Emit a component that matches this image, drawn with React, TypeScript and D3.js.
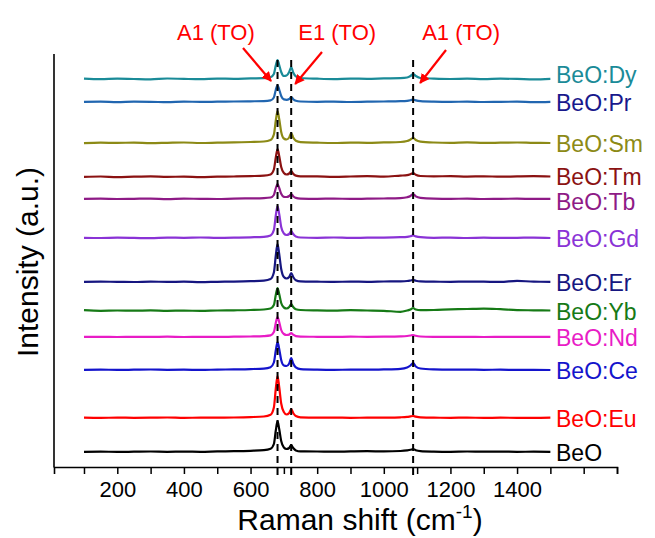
import React, { useEffect, useRef } from 'react';
import * as d3 from 'd3';

// Raman shift grid (cm-1) shared by all spectra
const shifts = [
  100, 150, 200, 250, 300, 350, 400, 450, 500, 550, 600,
  640, 660, 670, 676, 681, 686, 692, 700, 708, 716, 722, 728, 736, 750,
  800, 850, 900, 950, 1000, 1050,
  1070, 1080, 1088, 1096, 1110,
  1150, 1200, 1250, 1300, 1350, 1400, 1450, 1500,
];

// intensities (a.u., before stacking offset)
const dy = [0.3, -0.2, 0.4, 0, -0.3, 0.5, 0.1, -0.2, 0.4, 0.2, 0.6, 0.8, 1.8, 5, 14, 19, 14, 7, 3, 3.5, 7, 12, 6.5, 2.6, 1, 0.3, -0.1, 0.4, 0.2, 0.6, 0.9, 1.5, 3, 5, 3, 1, 0.4, 0, 0.3, -0.2, 0.3, 0.1, -0.3, 0.2];
const pr = [0.2, 0.4, -0.1, 0.3, 0.2, -0.2, 0.4, 0.1, 0.3, 0.5, 0.7, 0.9, 1.6, 4.5, 12.5, 17, 12.5, 6, 2.6, 2.2, 3, 5, 2.8, 1.2, 0.5, 0.2, 0.4, 0, 0.3, 0.5, 0.8, 1.2, 1.8, 2.5, 1.6, 0.8, 0.3, 0.1, 0.4, 0, 0.2, 0.3, -0.1, 0.2];
const sm = [-0.2, 0.3, 0.1, 0.4, -0.1, 0.2, 0.5, 0, 0.3, 0.6, 1, 1.5, 3, 8.5, 23, 32, 24, 11, 4.5, 3.5, 5.5, 10, 5.5, 2.2, 0.8, 0.3, 0, 0.4, 0.2, 0.6, 1, 2, 3.5, 5, 3, 1.4, 0.5, 0.2, 0.6, 0.1, 0.3, 0.5, 0.1, 0];
const tm = [0.2, 0.5, -0.2, 0.3, 0.6, 0.1, 0.4, -0.1, 0.3, 0.5, 0.9, 1.3, 2.5, 7.5, 20, 28, 21, 10, 4, 2.5, 3.5, 6, 3.3, 1.4, 0.7, 0.6, 0.2, 0.5, 0.9, 0.4, 1.4, 1.8, 2.8, 4, 2.2, 1, 0.6, 0.9, 0.4, 0.7, 0.3, 0.6, 0.8, 0.5];
const tb = [0.1, 0.3, 0, 0.2, 0.4, -0.1, 0.3, 0.2, 0, 0.4, 0.6, 0.9, 1.5, 4, 11, 15, 11, 5.2, 2.2, 2, 3, 5, 2.8, 1.1, 0.4, 0.2, 0.4, 0.1, 0.3, 0.5, 0.9, 1.8, 3, 5, 2.6, 1.1, 0.3, 0.1, 0.4, 0, 0.2, 0.3, 0.1, 0.2];
const gd = [0.2, 0, 0.3, 0.1, -0.2, 0.4, 0.2, 0.5, 0.1, 0.3, 0.7, 1.2, 2.6, 8, 23, 32, 24, 11, 4.5, 3, 4, 7, 4, 1.5, 0.5, 0.2, 0.5, 0.1, 0.3, 0.4, 0.8, 1.2, 1.8, 2.5, 1.6, 0.8, 0.2, 0.4, 0, 0.3, 0.1, 0.2, 0.4, 0];
const er = [0.1, 0.3, 0.2, 0, 0.4, 0.1, 0.3, -0.1, 0.2, 0.4, 0.8, 1.4, 3, 9.5, 27, 38, 28, 13, 5, 3.5, 5, 9, 5, 1.8, 0.6, 0.3, 0.1, 0.4, 0.2, 0.5, 0.7, 1, 1.5, 2, 1.3, 0.6, 0.3, 0.2, 0.4, 0.3, 0.1, 1.2, 0.3, 0.2];
const yb = [0.8, 0.2, 0.5, 0.3, 0.6, 0.2, 0.4, 0.1, 0.5, 0.7, 1, 1.5, 2.5, 6, 16.5, 23, 17, 8, 3.5, 2.5, 4, 7, 4, 1.8, 1, 0.6, 0.4, 0.8, 0.5, 0.2, -0.8, 0.5, 1.5, 3, 1.5, 0.8, 1, 1.6, 2, 2.4, 1.8, 0.9, 0.7, 0.5];
const nd = [0.1, 0.2, 0, 0.2, 0.1, 0.3, 0, 0.2, 0.1, 0.3, 0.5, 0.9, 1.6, 5, 14.5, 20, 15, 7, 3, 2, 2.4, 4, 2.3, 0.9, 0.4, 0.2, 0.1, 0.3, 0.2, 0.3, 0.6, 1, 1.5, 2, 1.2, 0.5, 0.2, 0.1, 0.2, 0, 0.1, 0.2, 0.1, 0.1];
const ce = [0.2, 0.4, 0.1, 0.3, 0.5, 0.2, 0.3, 0.1, 0.4, 0.6, 0.9, 1.4, 2.8, 7.5, 20, 28, 21, 10, 4.5, 4, 6.5, 12, 6.5, 2.6, 0.8, 0.3, 0.1, 0.4, 0.3, 0.6, 1.2, 2.5, 4.5, 7, 3.5, 1.5, 0.6, 0.3, 0.4, 0.2, 0.3, 0.1, 0.2, 0];
const eu = [0.3, 0.1, 0.4, 0.2, 0.3, 0.5, 0.1, 0.4, 0.3, 0.5, 0.9, 1.5, 3.2, 10.5, 30, 42, 31, 14.5, 6, 3.5, 5, 9, 5, 2, 0.7, 0.3, 0.4, 0.2, 0.3, 0.4, 0.7, 1.1, 1.6, 2, 1.4, 0.7, 0.3, 0.2, 0.4, 0.1, 0.3, 0.2, 0.1, 0.3];
const beo = [0.2, 0.4, 0.1, 0.3, 0.5, 0.2, 0.4, 0.2, 0.6, 0.8, 1.2, 1.8, 3.2, 8, 22, 31, 23, 11, 4.5, 3, 4, 7, 4, 1.6, 0.6, 0.5, 0.3, 0.6, 0.8, 0.6, 1, 1.6, 2.2, 3, 1.8, 0.9, 0.4, 0.2, 0.5, 0.3, 0.4, 0.2, 0.3, 0.1];

const samples = ['BeO:Dy', 'BeO:Pr', 'BeO:Sm', 'BeO:Tm', 'BeO:Tb', 'BeO:Gd', 'BeO:Er', 'BeO:Yb', 'BeO:Nd', 'BeO:Ce', 'BeO:Eu', 'BeO'];
const spectra = [dy, pr, sm, tm, tb, gd, er, yb, nd, ce, eu, beo];
const offsets = [388, 365, 324, 290, 268, 229, 185, 156, 130, 97, 49, 15];
const lineColors = ['#1a8b98', '#2166b0', '#8c8a16', '#8b1212', '#8e1a86', '#8a33d6', '#161680', '#167a16', '#e81cc6', '#1414cc', '#ff0000', '#000000'];
const labelColors = ['#1a8b98', '#18188c', '#8c8a16', '#8b1212', '#8e1a86', '#8a33d6', '#161680', '#167a16', '#e81cc6', '#1414cc', '#ff0000', '#000000'];

const xTicks = [100, 200, 300, 400, 500, 600, 700, 800, 900, 1000, 1100, 1200, 1300, 1400, 1500, 1600, 1700];
const tickLabels = [200, 400, 600, 800, 1000, 1200, 1400];

const peakShifts = [681, 722, 1088];
const peakNames = ['A1 (TO)', 'E1 (TO)', 'A1 (TO)'];
const nameShifts = [496, 860, 1232];

function App() {
  const ref = useRef<SVGSVGElement>(null);

  useEffect(() => {
    const svg = d3.select(ref.current);
    svg.selectAll('*').remove();
    const font = 'Arial, "Liberation Sans", sans-serif';

    const x = d3.scaleLinear().domain([10, 1700]).range([54, 617]);
    const y = d3.scaleLinear().domain([0, 413]).range([467, 54]);

    svg.append('defs').append('marker')
      .attr('id', 'arrow')
      .attr('viewBox', '0 0 10 10')
      .attr('refX', 9).attr('refY', 5)
      .attr('markerWidth', 4.5).attr('markerHeight', 4.5)
      .attr('orient', 'auto')
      .append('path')
      .attr('d', 'M0,0 L10,5 L0,10 z')
      .attr('fill', '#ff0000');

    // stacked spectra
    const line = d3.line<number>()
      .x((_, i) => x(shifts[i]))
      .y(d => d)
      .curve(d3.curveMonotoneX);

    // small vertical nudges so crowded labels sit like the original
    const labelNudge = [-4, 1, 1, 0, 3, 1, 1, 1, 1, 1, 1, 1];

    spectra.forEach((vals, k) => {
      svg.append('path')
        .datum(vals.map(v => y(v + offsets[k])))
        .attr('fill', 'none')
        .attr('stroke', lineColors[k])
        .attr('stroke-width', 2.2)
        .attr('stroke-linejoin', 'round')
        .attr('d', line);

      svg.append('text')
        .attr('x', 556)
        .attr('y', y(offsets[k]) + labelNudge[k])
        .attr('dominant-baseline', 'central')
        .attr('font-family', font)
        .attr('font-size', 23)
        .attr('fill', labelColors[k])
        .text(samples[k]);
    });

    // dashed markers at the phonon modes
    peakShifts.forEach(p => {
      svg.append('line')
        .attr('x1', x(p)).attr('x2', x(p))
        .attr('y1', 60).attr('y2', 475)
        .attr('stroke', '#000')
        .attr('stroke-width', 2)
        .attr('stroke-dasharray', '7,5');
    });

    // axes
    const axis = svg.append('g')
      .attr('transform', 'translate(0,467)')
      .call(d3.axisBottom(x)
        .tickValues(xTicks)
        .tickSizeOuter(0)
        .tickSize(7)
        .tickFormat(d => (tickLabels.includes(+d) ? String(d) : '')));
    axis.select('.domain').attr('stroke-width', 1.6);
    axis.selectAll('.tick line').attr('stroke-width', 1.5);
    axis.selectAll('.tick text')
      .attr('y', 30).attr('dy', null)
      .attr('font-family', font)
      .attr('font-size', 22)
      .attr('fill', '#000');

    svg.append('line')
      .attr('x1', 54).attr('x2', 54)
      .attr('y1', 54).attr('y2', 467.5)
      .attr('stroke', '#000')
      .attr('stroke-width', 1.6);

    const xt = svg.append('text')
      .attr('x', 360).attr('y', 530)
      .attr('text-anchor', 'middle')
      .attr('font-family', font)
      .attr('font-size', 30);
    xt.append('tspan').text('Raman shift (cm');
    xt.append('tspan').attr('font-size', 19).attr('dy', -12).text('-1');
    xt.append('tspan').attr('dy', 12).text(')');

    svg.append('text')
      .attr('transform', 'translate(38,262) rotate(-90)')
      .attr('text-anchor', 'middle')
      .attr('font-family', font)
      .attr('font-size', 30)
      .text('Intensity (a.u.)');

    // mode annotations
    const arrowEnds = [[-6.5, 81], [4, 84], [7, 83]];
    const arrowStarts = [[243, 48], [322, 52], [446, 50]];
    peakNames.forEach((name, i) => {
      svg.append('text')
        .attr('x', x(nameShifts[i]))
        .attr('y', 40)
        .attr('text-anchor', 'middle')
        .attr('font-family', font)
        .attr('font-size', 22)
        .attr('fill', '#ff0000')
        .text(name);
      svg.append('line')
        .attr('x1', arrowStarts[i][0]).attr('y1', arrowStarts[i][1])
        .attr('x2', x(peakShifts[i]) + arrowEnds[i][0]).attr('y2', arrowEnds[i][1])
        .attr('stroke', '#ff0000')
        .attr('stroke-width', 2.2)
        .attr('marker-end', 'url(#arrow)');
    });
  }, []);

  return (
    <svg ref={ref} width={655} height={538}
      style={{ position: 'absolute', left: 0, top: 0, background: '#fff' }} />
  );
}

export default App;
